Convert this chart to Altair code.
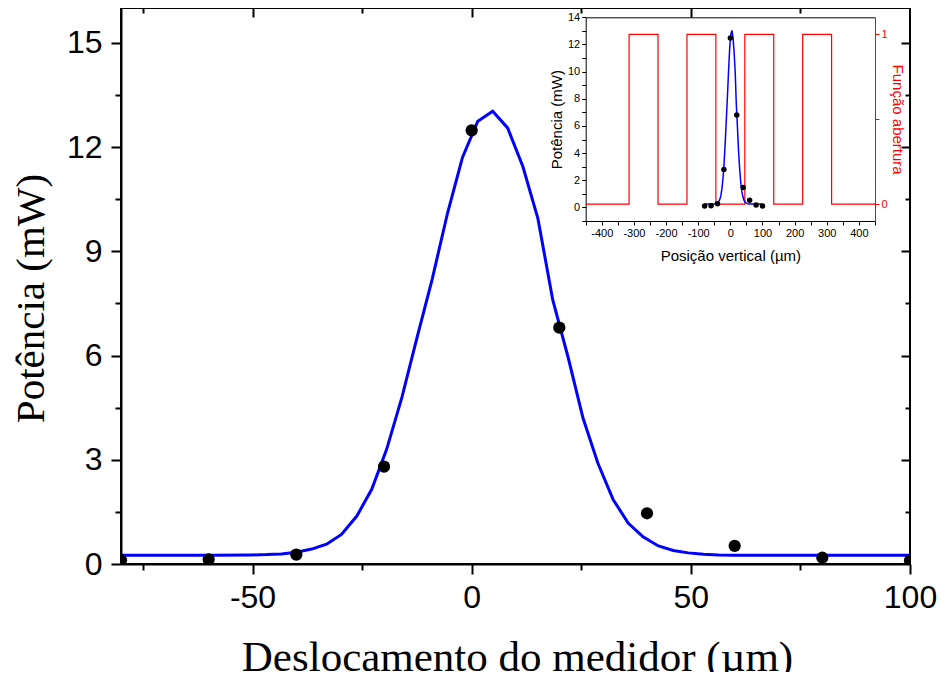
import altair as alt
import pandas as pd

# ---------------- data ----------------
# measured points (main chart and inset)
pos_x = [-80, -60, -40, -20, 0, 20, 40, 60, 80, 100]
pos_y = [0.11, 0.13, 0.27, 2.8, 12.48, 6.8, 1.46, 0.52, 0.18, 0.1]

# fitted curve (vertices)
fit_x = [-80, -70, -60, -50.3, -46.8, -43.4, -40.0, -36.5, -33.1, -29.7,
         -26.2, -22.8, -19.4, -15.9, -12.5, -9.0, -5.5, -2.1, 1.4, 4.8,
         8.2, 11.7, 15.1, 18.5, 22.0, 25.4, 28.8, 32.3, 35.7, 39.1,
         42.6, 46.0, 49.4, 52.9, 56.3, 60, 70, 80, 90, 100]
fit_y = [0.25, 0.25, 0.25, 0.26, 0.27, 0.29, 0.34, 0.43, 0.57, 0.85,
         1.38, 2.15, 3.3, 4.8, 6.5, 8.2, 10.1, 11.7, 12.74, 13.03,
         12.55, 11.43, 9.95, 7.6, 5.95, 4.2, 2.9, 1.85, 1.18, 0.78,
         0.52, 0.39, 0.32, 0.28, 0.26, 0.25, 0.25, 0.25, 0.25, 0.25]

# aperture function (step-after)
step_x = [-450, -315, -225, -135, -45, 45, 135, 225, 315, 450]
step_y = [0, 1, 0, 1, 0, 1, 0, 1, 0, 0]

# tick values
main_x_major = [-50, 0, 50, 100]
main_x_minor = [-75, -25, 25, 75]
main_y_major = [0, 3, 6, 9, 12, 15]
main_y_minor = [1.5, 4.5, 7.5, 10.5, 13.5]
inset_x_ticks = list(range(-450, 451, 50))
inset_y_ticks = list(range(-1, 15))
red_ticks = [0, 0.5, 1]

df_pts = pd.DataFrame({"x": pos_x, "y": pos_y})
df_fit = pd.DataFrame({"x": fit_x, "y": fit_y})
df_step = pd.DataFrame({"x": step_x, "y": step_y})

SANS = "Liberation Sans"
SERIF = "Liberation Serif"
W, H = 789, 556

MX = alt.Scale(domain=[-80, 100], nice=False, zero=False)
MY = alt.Scale(domain=[0, 16], nice=False, zero=False)
# inset scales placed inside the main plot area (plot-relative pixels)
IX = alt.Scale(domain=[-450, 450], range=[464.7, 754], nice=False, zero=False)
IY = alt.Scale(domain=[-1, 14], range=[213, 9.3], nice=False, zero=False)
IR = alt.Scale(domain=[-0.1, 1.1], range=[213, 9.3], nice=False, zero=False)


def tick_axis(orient, values, size, offset=0, color="black", width=2):
    return alt.Axis(orient=orient, values=values, tickSize=size, offset=offset,
                    labels=False, domain=False, grid=False, title=None,
                    tickColor=color, tickWidth=width)


# ---------------- main chart ----------------
main_line = alt.Chart(df_fit).mark_line(color="#0000ff", strokeWidth=3, clip=True).encode(
    x=alt.X("x:Q", scale=MX, axis=alt.Axis(
        orient="bottom", values=main_x_major, labelExpr="'' + datum.value",
        tickSize=10, tickWidth=2, tickColor="black", domainColor="black", domainWidth=2,
        labelFont=SANS, labelFontSize=32, labelColor="black", labelPadding=8,
        labelFlush=False, labelOverlap=False, grid=False,
        title="Deslocamento do medidor (µm)", titleFont=SERIF, titleFontSize=43,
        titleFontWeight="normal", titleColor="black", titleX=396, titleY=106,
        titleBaseline="alphabetic", titleAlign="center")),
    y=alt.Y("y:Q", scale=MY, axis=alt.Axis(
        orient="left", values=main_y_major, labelExpr="'' + datum.value",
        tickSize=10, tickWidth=2, tickColor="black", domainColor="black", domainWidth=2,
        labelFont=SANS, labelFontSize=32, labelColor="black", labelPadding=9,
        labelOverlap=False, grid=False,
        title="Potência (mW)", titleFont=SERIF, titleFontSize=41,
        titleFontWeight="normal", titleColor="black", titleX=-90, titleY=290,
        titleBaseline="middle", titleAlign="center", titleAngle=-90)),
)

main_pts = alt.Chart(df_pts).mark_circle(color="black", size=150, opacity=1, clip=True).encode(
    x=alt.X("x:Q", scale=MX, axis=tick_axis("bottom", main_x_minor, 6)),
    y=alt.Y("y:Q", scale=MY, axis=tick_axis("left", main_y_minor, 6)),
)

mirror_major = alt.Chart(df_pts).mark_point(opacity=0).encode(
    x=alt.X("x:Q", scale=MX, axis=tick_axis("top", [-50, 0, 50], 9, offset=-9)),
    y=alt.Y("y:Q", scale=MY, axis=tick_axis("right", [3, 6, 9, 12, 15], 9, offset=-9)),
)

mirror_minor = alt.Chart(df_pts).mark_point(opacity=0).encode(
    x=alt.X("x:Q", scale=MX, axis=tick_axis("top", main_x_minor, 5, offset=-5)),
    y=alt.Y("y:Q", scale=MY, axis=tick_axis("right", main_y_minor, 5, offset=-5)),
)

main = alt.layer(main_line, main_pts, mirror_major, mirror_minor).resolve_axis(
    x="independent", y="independent")

# ---------------- inset ----------------
inset_step = alt.Chart(df_step).mark_line(color="#ff0000", strokeWidth=1.2,
                                          interpolate="step-after").encode(
    x=alt.X("x:Q", scale=IX, axis=alt.Axis(
        orient="top", offset=-9.3, ticks=False, labels=False, domain=True,
        domainColor="black", domainWidth=1, grid=False, title=None)),
    y=alt.Y("y:Q", scale=IR, axis=alt.Axis(
        orient="right", offset=-35, values=red_ticks,
        labelExpr="datum.value === 0.5 ? '' : '' + datum.value",
        tickSize=4, tickColor="#ff0000", tickWidth=1, domainColor="#ff0000", domainWidth=1,
        labelColor="#ff0000", labelFont=SANS, labelFontSize=11, labelPadding=2,
        labelOverlap=False, grid=False,
        title="Função abertura", titleColor="#ff0000", titleFont=SANS, titleFontSize=15,
        titleFontWeight="normal", titleAngle=90, titleX=22, titleBaseline="middle",
        titleAlign="center")),
)

inset_line = alt.Chart(df_fit).mark_line(color="#0000ff", strokeWidth=1.5).encode(
    x=alt.X("x:Q", scale=IX, axis=alt.Axis(
        orient="bottom", offset=-343, values=inset_x_ticks,
        labelExpr="datum.value % 100 === 0 ? '' + datum.value : ''",
        tickSize=4, tickColor="black", tickWidth=1, domainColor="black", domainWidth=1,
        labelFont=SANS, labelFontSize=11, labelColor="black", labelPadding=2,
        labelFlush=False, labelOverlap=False, grid=False,
        title="Posição vertical (µm)", titleFont=SANS, titleFontSize=15,
        titleFontWeight="normal", titleColor="black", titleY=34,
        titleBaseline="middle", titleAlign="center")),
    y=alt.Y("y:Q", scale=IY, axis=alt.Axis(
        orient="left", offset=-464.7, values=inset_y_ticks,
        labelExpr="(datum.value % 2 === 0 && datum.value >= 0) ? '' + datum.value : ''",
        tickSize=4, tickColor="black", tickWidth=1, domainColor="black", domainWidth=1,
        labelFont=SANS, labelFontSize=11, labelColor="black", labelPadding=2,
        labelOverlap=False, grid=False,
        title="Potência (mW)", titleFont=SANS, titleFontSize=15,
        titleFontWeight="normal", titleColor="black", titleX=-29,
        titleBaseline="middle", titleAlign="center", titleAngle=-90)),
)

inset_pts = alt.Chart(df_pts).mark_circle(color="black", size=30, opacity=1).encode(
    x=alt.X("x:Q", scale=IX, axis=None),
    y=alt.Y("y:Q", scale=IY, axis=None),
)

inset = alt.layer(inset_step, inset_line, inset_pts).resolve_scale(
    y="independent").resolve_axis(x="independent", y="independent")

chart = alt.layer(main, inset).resolve_scale(
    x="independent", y="independent"
).properties(
    width=W, height=H,
    autosize=alt.AutoSizeParams(type="none"),
    padding={"left": 113, "top": 0, "right": 27, "bottom": 108},
    background="white",
).configure_view(stroke="black", strokeWidth=2)

chart.save("out.html", embed_options={"renderer": "svg", "actions": False})
